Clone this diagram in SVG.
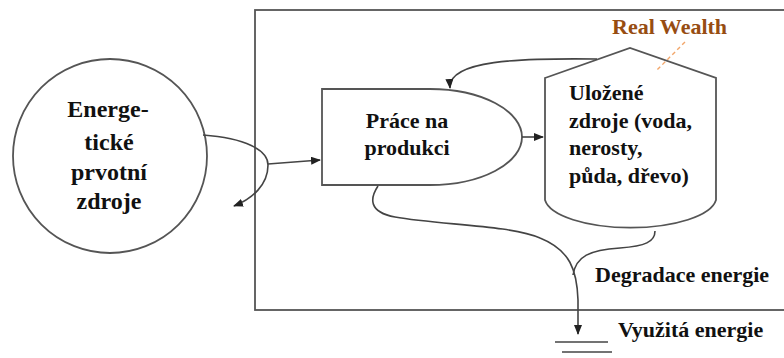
<svg xmlns="http://www.w3.org/2000/svg" width="784" height="358" viewBox="0 0 784 358">
  <style>
    .ln { fill: none; stroke: #444; stroke-width: 1.6; }
    .shape { fill: #fff; stroke: #555; stroke-width: 1.8; }
    text { font-family: 'Liberation Serif', 'Times New Roman', Times, serif; font-weight: 700; font-size: 22px; fill: #111; }
    .tc { text-anchor: middle; }
    .big { font-size: 24px; }
    .rw { fill: #974d12; }
  </style>
  <defs>
    <marker id="arr" markerUnits="userSpaceOnUse" markerWidth="10" markerHeight="8" refX="9" refY="4" orient="auto">
      <path d="M0,0 L10,4 L0,8 Z" fill="#222"/>
    </marker>
  </defs>

  <rect width="784" height="358" fill="#fff"/>

  <!-- system boundary -->
  <rect id="boundary" x="255" y="10" width="540" height="300" fill="none" stroke="#555" stroke-width="1.8"/>

  <!-- energy source -->
  <g id="zdroje-energie">
    <circle class="shape" cx="110" cy="156" r="97"/>
    <text class="tc big" x="108" y="117">Energe-</text>
    <text class="tc big" x="109" y="150">tické</text>
    <text class="tc big" x="109" y="180">prvotní</text>
    <text class="tc big" x="109" y="209">zdroje</text>
  </g>

  <!-- production work -->
  <g id="prace">
    <path class="shape" d="M322,89 H430 A92,48 0 0 1 430,185 H322 Z"/>
    <text class="tc" x="407" y="128">Práce na</text>
    <text class="tc" x="407" y="155">produkci</text>
  </g>

  <!-- stored resources -->
  <g id="ulozene-zdroje">
    <path class="shape" d="M545,78 L630,48 L716,78 V200 A86,31 0 0 1 545,200 Z"/>
    <text x="569" y="100">Uložené</text>
    <text x="569" y="128">zdroje (voda,</text>
    <text x="569" y="155">nerosty,</text>
    <text x="569" y="183">půda, dřevo)</text>
  </g>

  <!-- real wealth label -->
  <g id="real-wealth">
    <text class="rw" x="612" y="34">Real Wealth</text>
    <line x1="685" y1="42" x2="656" y2="71" stroke="#f2a66a" stroke-width="1.4" stroke-dasharray="4,3"/>
  </g>

  <!-- connectors -->
  <g id="connectors">
    <path class="ln" d="M203,135 C245,138 268,150 268,165 C268,185 252,199 234,206" marker-end="url(#arr)"/>
    <path class="ln" d="M268,164 L320,160" marker-end="url(#arr)"/>
    <path class="ln" d="M522,137 L543,137" marker-end="url(#arr)"/>
    <path class="ln" d="M597,59 C520,58 448,60 450,88" marker-end="url(#arr)"/>
    <path class="ln" d="M378,186 C370,198 368,212 395,217 C440,225 510,225 540,238 C570,250 577,270 578,300 L578,334" marker-end="url(#arr)"/>
    <path class="ln" d="M655,231 C655,242 645,246 620,248 C590,250 576,256 573,275"/>
  </g>

  <!-- heat sink -->
  <g id="vyuzita-energie">
    <line x1="555" y1="342" x2="608" y2="342" stroke="#444" stroke-width="1.6"/>
    <line x1="562" y1="352" x2="612" y2="352" stroke="#444" stroke-width="1.6"/>
    <text x="618" y="337">Využitá energie</text>
  </g>

  <text id="degradace" x="595" y="282">Degradace energie</text>
</svg>
